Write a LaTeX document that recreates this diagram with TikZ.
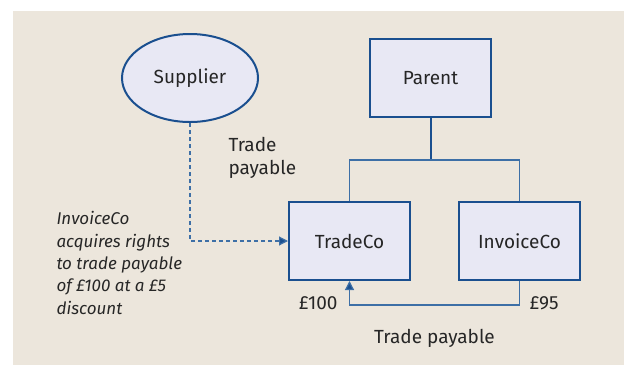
\documentclass[tikz,border=0pt]{standalone}
\usepackage{fontspec}
\setmainfont{Fira Sans}
\usetikzlibrary{positioning,arrows.meta,shapes.geometric}
\definecolor{paper}{HTML}{ECE6DC}
\definecolor{boxfill}{HTML}{E8E8F4}
\definecolor{edgeblue}{HTML}{1A4F8F}
\definecolor{linkblue}{HTML}{3D6FA6}
\definecolor{ink}{HTML}{262626}
\tikzset{
	company/.style={draw=edgeblue, line width=2pt, fill=boxfill, minimum width=121pt, minimum height=78pt, text=ink},
	party/.style={ellipse, draw=edgeblue, line width=2pt, fill=boxfill, minimum width=136pt, minimum height=88pt, text=ink},
	link/.style={draw=linkblue, line width=1.2pt},
	note/.style={text=ink, align=left}
}
\begin{document}
\begin{tikzpicture}[x=1pt,y=-1pt,font=\fontsize{19}{22.4}\selectfont]
				\useasboundingbox (0,0) rectangle (624,365);
				\fill[paper] (13,11) rectangle (624,365);
				% Center
				\node[company] (Parent) at (430.5,78) {Parent} ;
				\node[party,left=110pt of Parent] (Supplier) {Supplier} ;
				\node[company,below left=83pt and -42pt of Parent] (TradeCo) {TradeCo} ;
				\node[company,right=47pt of TradeCo] (InvoiceCo) {InvoiceCo} ;
				
				% Ownership
				\draw[edgeblue, line width=2pt] (Parent.south) -- ++(0,42) coordinate (split) ;
				\draw[link] (TradeCo.north) |- (split) -| (InvoiceCo.north) ;
				
				% Payables
				\draw[link, dashed, dash pattern=on 4pt off 3pt, -{Triangle[length=9pt,width=9pt,fill=edgeblue]}] (Supplier.south) |- (TradeCo.west) ;
				\draw[link, -{Triangle[length=9pt,width=9pt,fill=edgeblue]}] (InvoiceCo.south) -- ++(0,24) -| (TradeCo.south) ;
				
				% Labels
				\node[note, anchor=west] (upper) at (225,158) {Trade\\payable} ;
				\node[note, anchor=east] (owed) at (341,303) {£100} ;
				\node[note, anchor=west] (paid) at (526,303) {£95} ;
				\node[note] (lower) at (434.5,338) {Trade payable} ;
				\node[note, anchor=west, font=\fontsize{17}{22.4}\selectfont\itshape] (rights) at (53,263) {InvoiceCo\\acquires rights\\to trade payable\\of £100 at a £5\\discount} ;
			\end{tikzpicture}
\end{document}
